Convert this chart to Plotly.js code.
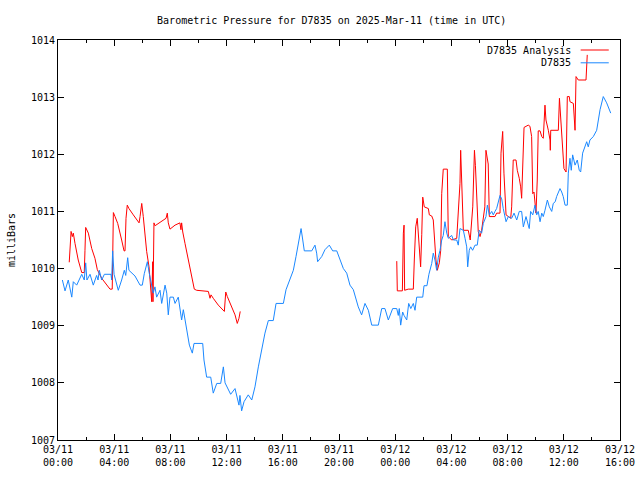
<!DOCTYPE html>
<html>
<head>
<meta charset="utf-8">
<script src="https://cdn.plot.ly/plotly-3.0.1.min.js"></script>
<style>html,body{margin:0;padding:0;background:#fff;}#chart{width:640px;height:480px;}</style>
</head>
<body>
<div id="chart"></div>
<script>
// Hours after 2025-03-11 00:00 UTC, and pressure (milliBars)
const stationHours = [0.31,0.50,0.73,0.98,1.09,1.33,1.69,1.87,1.97,2.06,2.28,2.51,2.75,2.85,2.94,3.11,3.30,3.77,3.82,3.89,3.99,4.29,4.53,4.72,4.82,4.96,5.05,5.48,5.84,6.00,6.14,6.36,6.50,6.67,6.78,6.90,7.02,7.26,7.38,7.62,7.74,7.85,7.97,8.21,8.33,8.56,8.68,8.80,8.92,9.09,9.23,9.35,9.56,9.68,10.30,10.39,10.58,10.87,11.05,11.30,11.58,11.77,11.89,12.05,12.29,12.60,12.72,12.88,12.95,13.07,13.24,13.54,13.79,14.02,14.26,14.50,14.73,14.97,15.32,15.52,16.04,16.23,16.51,16.75,16.94,17.10,17.30,17.42,17.53,18.06,18.29,18.41,18.48,18.77,19.00,19.31,19.55,19.84,20.07,20.31,20.55,20.78,21.02,21.21,21.37,21.61,21.85,22.09,22.33,22.80,23.04,23.27,23.51,23.82,24.11,24.22,24.29,24.39,24.53,24.63,24.82,24.96,25.11,25.29,25.41,25.53,25.96,26.05,26.26,26.40,26.60,26.71,26.83,26.95,27.07,27.19,27.31,27.42,27.54,27.67,27.78,28.02,28.14,28.38,28.49,28.61,28.85,28.97,29.09,29.16,29.27,29.37,29.51,29.68,29.84,29.98,30.15,30.27,30.46,30.56,30.70,30.87,30.98,31.10,31.22,31.46,31.58,31.69,31.89,32.05,32.29,32.46,32.65,32.83,33.00,33.12,33.31,33.47,33.54,33.64,33.79,33.95,34.07,34.18,34.31,34.43,34.54,34.66,34.83,34.97,35.14,35.25,35.39,35.49,35.61,35.73,35.85,35.96,36.09,36.25,36.32,36.44,36.53,36.63,36.80,36.96,37.10,37.20,37.34,37.51,37.63,37.74,37.86,38.10,38.34,38.46,38.58,38.81,39.05,39.34];
const stationValues = [1009.80,1009.61,1009.80,1009.50,1009.77,1009.71,1009.90,1009.80,1010.10,1009.80,1009.90,1009.71,1009.88,1009.80,1009.97,1009.80,1009.90,1009.90,1009.80,1010.31,1009.90,1009.62,1009.80,1009.97,1009.88,1010.19,1009.97,1009.87,1009.71,1009.71,1009.91,1010.12,1009.91,1009.68,1009.57,1009.68,1009.50,1009.62,1009.39,1009.71,1009.57,1009.19,1009.50,1009.50,1009.39,1009.50,1009.28,1009.10,1009.28,1009.04,1008.80,1008.66,1008.52,1008.69,1008.69,1008.40,1008.10,1008.10,1007.82,1007.99,1007.99,1008.28,1008.00,1007.93,1007.80,1007.90,1007.75,1007.61,1007.78,1007.51,1007.67,1007.79,1007.70,1007.93,1008.28,1008.57,1008.87,1009.09,1009.09,1009.39,1009.39,1009.63,1009.80,1009.97,1010.21,1010.44,1010.70,1010.50,1010.31,1010.31,1010.41,1010.27,1010.12,1010.21,1010.33,1010.41,1010.31,1010.31,1010.15,1010.00,1009.92,1009.71,1009.63,1009.48,1009.33,1009.19,1009.39,1009.27,1009.01,1009.01,1009.30,1009.30,1009.10,1009.30,1009.30,1009.18,1009.30,1009.01,1009.24,1009.18,1009.10,1009.39,1009.30,1009.39,1009.27,1009.50,1009.50,1009.70,1009.70,1009.90,1010.09,1010.27,1010.15,1009.97,1010.20,1010.32,1010.50,1010.58,1010.82,1010.62,1010.53,1010.58,1010.50,1010.50,1010.41,1010.70,1010.67,1010.53,1010.38,1010.03,1010.32,1010.38,1010.32,1010.41,1010.41,1010.67,1010.62,1010.79,1010.91,1011.11,1010.94,1011.00,1010.94,1011.00,1011.05,1011.28,1011.22,1011.05,1010.82,1010.91,1010.88,1010.97,1010.85,1011.00,1011.00,1010.73,1010.91,1010.76,1010.70,1011.00,1010.94,1011.11,1010.94,1011.00,1010.82,1010.97,1010.91,1011.02,1011.20,1011.08,1011.00,1011.14,1011.17,1011.26,1011.32,1011.40,1011.34,1011.26,1011.11,1011.11,1011.67,1011.93,1011.72,1011.99,1011.81,1011.90,1011.72,1011.69,1012.02,1012.13,1012.22,1012.13,1012.25,1012.31,1012.42,1012.60,1012.78,1013.01,1012.90,1012.72];

// Analysis series, first and second segment
const analysisHoursA = [0.80,0.93,1.02,1.09,1.21,1.44,1.69,1.87,1.92,1.97,2.16,2.40,2.63,2.80,3.11,3.47,3.70,3.86,3.94,4.06,4.25,4.53,4.70,4.77,4.84,4.93,5.05,5.36,5.60,5.77,5.84,5.96,6.07,6.19,6.31,6.48,6.55,6.62,6.67,6.74,6.76,6.83,6.90,6.97,7.38,7.69,7.78,7.85,7.97,8.33,8.68,8.75,8.80,8.88,9.04,9.27,9.52,9.70,9.87,10.23,10.70,10.82,10.89,11.05,11.41,11.84,11.94,12.05,12.31,12.60,12.76,12.88,12.97];
const analysisValuesA = [1010.11,1010.65,1010.56,1010.62,1010.44,1010.15,1009.93,1009.93,1010.32,1010.72,1010.62,1010.35,1010.18,1009.98,1009.83,1009.71,1009.64,1009.64,1010.98,1010.91,1010.79,1010.50,1010.31,1010.31,1010.88,1011.11,1011.05,1010.94,1010.87,1010.80,1010.91,1011.14,1010.91,1010.62,1010.30,1010.03,1009.80,1009.60,1009.42,1010.12,1009.42,1010.80,1010.75,1010.76,1010.82,1010.88,1010.97,1010.80,1010.69,1010.76,1010.80,1010.68,1010.80,1010.64,1010.44,1010.18,1009.89,1009.64,1009.62,1009.61,1009.60,1009.48,1009.54,1009.48,1009.36,1009.25,1009.59,1009.51,1009.36,1009.19,1009.04,1009.13,1009.25];
const analysisHoursB = [24.11,24.15,24.51,24.53,24.58,24.63,24.67,24.93,25.29,25.36,25.46,25.57,25.69,25.81,25.89,25.96,26.07,26.36,26.43,26.60,26.71,26.78,26.90,27.00,27.14,27.24,27.31,27.42,27.71,27.78,28.02,28.38,28.49,28.61,28.66,28.73,28.85,29.20,29.34,29.52,29.64,29.71,29.80,29.91,30.04,30.15,30.38,30.46,30.62,30.70,31.10,31.22,31.46,31.53,31.65,31.74,31.89,32.05,32.22,32.29,32.40,32.60,32.69,32.83,32.93,33.00,33.07,33.17,33.47,33.59,33.71,33.79,33.88,33.95,34.02,34.11,34.18,34.31,34.43,34.54,34.59,34.66,34.73,34.83,34.90,35.02,35.04,35.07,35.61,35.69,35.78,35.92,36.01,36.16,36.25,36.39,36.44,36.68,36.80,36.87,37.03,37.58,37.67];
const analysisValuesB = [1010.13,1009.61,1009.61,1010.06,1010.62,1010.76,1009.62,1009.64,1009.64,1010.15,1010.73,1010.88,1010.40,1010.03,1010.60,1011.25,1011.08,1011.05,1010.94,1010.92,1010.85,1010.50,1010.15,1009.97,1010.10,1010.32,1011.31,1011.74,1011.74,1010.56,1010.50,1010.53,1010.97,1011.49,1012.07,1011.49,1010.67,1010.67,1010.50,1011.08,1012.07,1011.80,1011.14,1010.65,1010.56,1010.67,1011.08,1012.07,1011.83,1010.91,1010.91,1010.97,1010.97,1012.02,1012.40,1011.67,1010.94,1010.91,1010.88,1011.08,1011.90,1011.90,1011.72,1011.58,1011.43,1011.23,1011.84,1012.47,1012.51,1012.49,1012.31,1011.31,1011.34,1011.08,1010.97,1011.55,1012.41,1012.41,1012.31,1012.28,1012.57,1012.86,1012.60,1012.45,1012.42,1012.25,1012.07,1012.42,1012.42,1012.98,1012.66,1012.13,1011.75,1011.69,1013.01,1013.01,1012.92,1012.89,1012.42,1013.36,1013.30,1013.30,1013.74];

const seriesNames = ['D7835 Analysis', 'D7835'];
const startMs = Date.UTC(2025, 2, 11, 0, 0, 0);
function toDate(h) {
  if (h === null) return null;
  const d = new Date(startMs + Math.round(h * 3600) * 1000);
  return d.toISOString().slice(0, 19).replace('T', ' ');
}
const analysisX = analysisHoursA.map(toDate).concat([null], analysisHoursB.map(toDate));
const analysisY = analysisValuesA.concat([null], analysisValuesB);

const mono = 'DejaVu Sans Mono, Liberation Mono, monospace';
const red = '#ff0000', blue = '#1a88ff';

const traces = [
  {x: analysisX, y: analysisY, name: seriesNames[0], type: 'scatter', mode: 'lines',
   line: {color: red, width: 1}, connectgaps: false},
  {x: stationHours.map(toDate), y: stationValues, name: seriesNames[1], type: 'scatter', mode: 'lines',
   line: {color: blue, width: 1}}
];

const layout = {
  width: 640, height: 480,
  margin: {l: 58, r: 20, t: 40, b: 40},
  paper_bgcolor: '#fff', plot_bgcolor: '#fff',
  font: {family: mono, size: 10, color: '#000'},
  showlegend: false,
  title: {text: 'Barometric Pressure for D7835 on 2025-Mar-11 (time in UTC)',
    font: {family: mono, size: 10, color: '#000'},
    xref: 'paper', x: 0.487, xanchor: 'center', yref: 'container', y: 0.958, yanchor: 'middle'},
  xaxis: {
    type: 'date', range: ['2025-03-11 00:00', '2025-03-12 16:00'],
    dtick: 4 * 3600 * 1000, tick0: '2025-03-11 00:00', tickformat: '%m/%d<br>%H:%M',
    ticks: 'inside', ticklen: 6, tickcolor: '#000', mirror: 'ticks',
    showline: true, linecolor: '#000', linewidth: 1, showgrid: false, zeroline: false,
    minor: {dtick: 2 * 3600 * 1000, ticks: 'inside', ticklen: 3, tickcolor: '#000', showgrid: false},
    tickfont: {family: mono, size: 10, color: '#000'}
  },
  yaxis: {
    range: [1007, 1014], dtick: 1, tickformat: 'd',
    ticks: 'inside', ticklen: 6, tickcolor: '#000', mirror: 'ticks',
    showline: true, linecolor: '#000', linewidth: 1, showgrid: false, zeroline: false,
    tickfont: {family: mono, size: 10, color: '#000'},
    title: {text: 'milliBars', font: {family: mono, size: 10, color: '#000'}, standoff: 13}
  },
  annotations: [
    {text: seriesNames[0], xref: 'paper', yref: 'paper', x: 0.917, y: 0.975, xanchor: 'right', yanchor: 'middle', showarrow: false, font: {family: mono, size: 10, color: '#000'}},
    {text: seriesNames[1], xref: 'paper', yref: 'paper', x: 0.917, y: 0.943, xanchor: 'right', yanchor: 'middle', showarrow: false, font: {family: mono, size: 10, color: '#000'}}
  ],
  shapes: [
    {type: 'line', xref: 'paper', yref: 'paper', x0: 0.93, x1: 0.98, y0: 0.975, y1: 0.975, line: {color: red, width: 1}},
    {type: 'line', xref: 'paper', yref: 'paper', x0: 0.93, x1: 0.98, y0: 0.943, y1: 0.943, line: {color: blue, width: 1}}
  ]
};

Plotly.newPlot('chart', traces, layout, {displayModeBar: false, staticPlot: true});
</script>
</body>
</html>
